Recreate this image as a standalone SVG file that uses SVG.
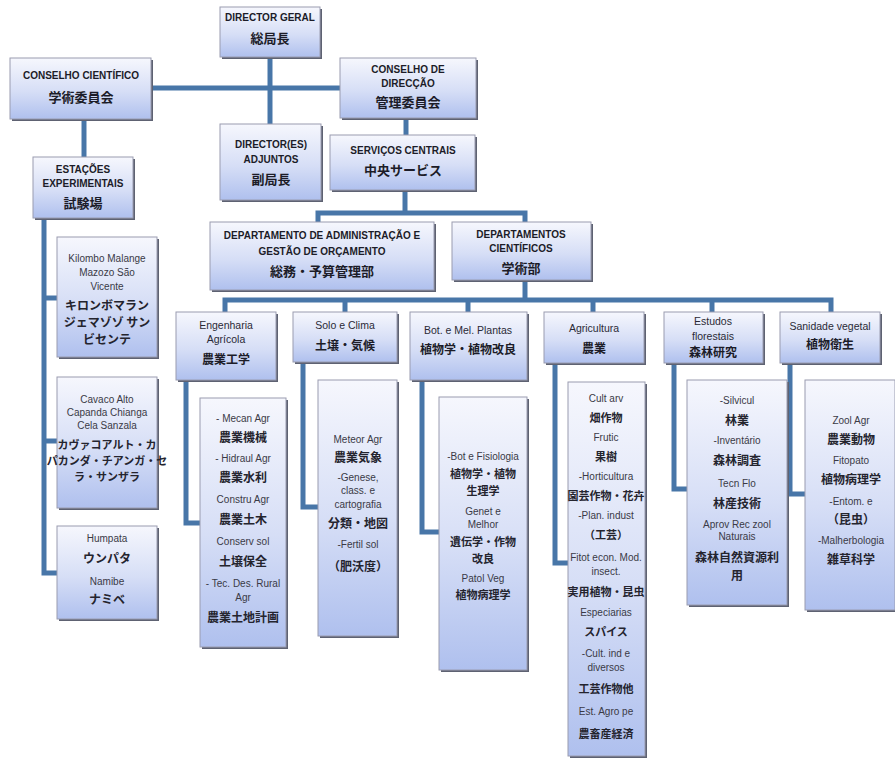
<svg xmlns="http://www.w3.org/2000/svg" width="895" height="760" viewBox="0 0 895 760">
  <defs>
    <linearGradient id="boxFill" x1="0" y1="0" x2="0" y2="1">
      <stop offset="0" stop-color="#f6f7fd"/>
      <stop offset="0.55" stop-color="#d6def6"/>
      <stop offset="1" stop-color="#afc0ee"/>
    </linearGradient>
    <style>
      .shadow { fill: #5e6272; }
      .box { fill: url(#boxFill); stroke: #9a9cb0; stroke-width: 1; }
      .link { fill: none; stroke: #4876a8; stroke-width: 5; stroke-linejoin: miter; }
      text { text-anchor: middle; fill: #1c1c28; }
      .t1 { font-family: "Liberation Sans Narrow", "Liberation Sans", Arial, sans-serif; font-weight: bold; font-size: 10px; }
      .j1 { font-family: "Noto Sans CJK JP", sans-serif; font-weight: bold; font-size: 13px; }
      .t2 { font-family: "Liberation Sans Narrow", "Liberation Sans", Arial, sans-serif; font-size: 10.5px; fill: #2a2a36; }
      .j2 { font-family: "Noto Sans CJK JP", sans-serif; font-weight: bold; font-size: 12px; }
      .t3 { font-family: "Liberation Sans Narrow", "Liberation Sans", Arial, sans-serif; font-size: 10px; fill: #3a3a46; }
      .j3 { font-family: "Noto Sans CJK JP", sans-serif; font-weight: bold; font-size: 12px; fill: #24242e; }
      .j3s { font-size: 11px; }
    </style>
  </defs>

  <rect width="895" height="760" fill="#ffffff"/>

  <!-- connectors -->
  <g id="connectors">
    <path class="link" d="M152 88 H340"/>
    <path class="link" d="M270 58 V124"/>
    <path class="link" d="M406 119 V135"/>
    <path class="link" d="M84 120 V157"/>
    <path class="link" d="M44 218 V573 H57"/>
    <path class="link" d="M44 298 H57"/>
    <path class="link" d="M44 441 H57"/>
    <path class="link" d="M405 190 V213"/>
    <path class="link" d="M318 222 V213 H525 V222"/>
    <path class="link" d="M525 280 V300"/>
    <path class="link" d="M225 312 V300 H831 V312"/>
    <path class="link" d="M345 300 V312"/>
    <path class="link" d="M468 300 V312"/>
    <path class="link" d="M593 300 V312"/>
    <path class="link" d="M712 300 V312"/>
    <path class="link" d="M186 380 V523 H200"/>
    <path class="link" d="M303 362 V507 H318"/>
    <path class="link" d="M422 380 V532 H439"/>
    <path class="link" d="M555 363 V563 H568"/>
    <path class="link" d="M674 363 V489 H687"/>
    <path class="link" d="M790 363 V494 H805"/>
  </g>

  <!-- top level -->
  <g id="director-geral">
    <rect class="shadow" x="222" y="9" width="100" height="50"/>
    <rect class="box" x="220" y="7" width="100" height="50"/>
    <text class="t1" x="270" y="21">DIRECTOR GERAL</text>
    <text class="j1" x="270" y="43">総局長</text>
  </g>

  <g id="conselho-cientifico">
    <rect class="shadow" x="12" y="60" width="141" height="61"/>
    <rect class="box" x="10" y="58" width="141" height="61"/>
    <text class="t1" x="81" y="79">CONSELHO CIENTÍFICO</text>
    <text class="j1" x="81" y="102">学術委員会</text>
  </g>

  <g id="conselho-direccao">
    <rect class="shadow" x="342" y="60" width="136" height="60"/>
    <rect class="box" x="340" y="58" width="136" height="60"/>
    <text class="t1" x="408" y="73">CONSELHO DE</text>
    <text class="t1" x="408" y="87">DIRECÇÃO</text>
    <text class="j1" x="408" y="107">管理委員会</text>
  </g>

  <g id="directores-adjuntos">
    <rect class="shadow" x="222" y="126" width="101" height="76"/>
    <rect class="box" x="220" y="124" width="101" height="76"/>
    <text class="t1" x="271" y="148">DIRECTOR(ES)</text>
    <text class="t1" x="271" y="163">ADJUNTOS</text>
    <text class="j1" x="271" y="184">副局長</text>
  </g>

  <g id="servicos-centrais">
    <rect class="shadow" x="332" y="137" width="145" height="55"/>
    <rect class="box" x="330" y="135" width="145" height="55"/>
    <text class="t1" x="403" y="154">SERVIÇOS CENTRAIS</text>
    <text class="j1" x="403" y="175">中央サービス</text>
  </g>

  <g id="estacoes-experimentais">
    <rect class="shadow" x="35" y="159" width="100" height="61"/>
    <rect class="box" x="33" y="157" width="100" height="61"/>
    <text class="t1" x="83" y="173">ESTAÇÕES</text>
    <text class="t1" x="83" y="187">EXPERIMENTAIS</text>
    <text class="j1" x="83" y="208">試験場</text>
  </g>

  <!-- experimental stations -->
  <g id="estacao-kilombo">
    <rect class="shadow" x="59" y="239" width="100" height="120"/>
    <rect class="box" x="57" y="237" width="100" height="120"/>
    <text class="t3" x="107" y="262">Kilombo Malange</text>
    <text class="t3" x="107" y="276">Mazozo São</text>
    <text class="t3" x="107" y="290">Vicente</text>
    <text class="j3" x="107" y="310">キロンボマラン</text>
    <text class="j3" x="107" y="327">ジェマゾゾ サン</text>
    <text class="j3" x="107" y="344">ビセンテ</text>
  </g>

  <g id="estacao-cavaco">
    <rect class="shadow" x="59" y="379" width="100" height="131"/>
    <rect class="box" x="57" y="377" width="100" height="131"/>
    <text class="t3" x="107" y="403">Cavaco Alto</text>
    <text class="t3" x="107" y="416">Capanda Chianga</text>
    <text class="t3" x="107" y="429">Cela Sanzala</text>
    <text class="j3 j3s" x="107" y="449">カヴァコアルト・カ</text>
    <text class="j3 j3s" x="107" y="465">パカンダ・チアンガ・セ</text>
    <text class="j3 j3s" x="107" y="481">ラ・サンザラ</text>
  </g>

  <g id="estacao-humpata">
    <rect class="shadow" x="59" y="528" width="100" height="93"/>
    <rect class="box" x="57" y="526" width="100" height="93"/>
    <text class="t3" x="107" y="542">Humpata</text>
    <text class="j3" x="107" y="563">ウンパタ</text>
    <text class="t3" x="107" y="585">Namibe</text>
    <text class="j3" x="107" y="604">ナミベ</text>
  </g>

  <!-- departments -->
  <g id="dep-administracao">
    <rect class="shadow" x="212" y="224" width="224" height="68"/>
    <rect class="box" x="210" y="222" width="224" height="68"/>
    <text class="t1" x="322" y="239">DEPARTAMENTO DE ADMINISTRAÇÃO E</text>
    <text class="t1" x="322" y="255">GESTÃO DE ORÇAMENTO</text>
    <text class="j1" x="322" y="276">総務・予算管理部</text>
  </g>

  <g id="dep-cientificos">
    <rect class="shadow" x="454" y="224" width="139" height="58"/>
    <rect class="box" x="452" y="222" width="139" height="58"/>
    <text class="t1" x="521" y="238">DEPARTAMENTOS</text>
    <text class="t1" x="521" y="252">CIENTÍFICOS</text>
    <text class="j1" x="521" y="273">学術部</text>
  </g>

  <!-- scientific departments -->
  <g id="eng-agricola">
    <rect class="shadow" x="178" y="314" width="100" height="68"/>
    <rect class="box" x="176" y="312" width="100" height="68"/>
    <text class="t2" x="226" y="329">Engenharia</text>
    <text class="t2" x="226" y="343">Agrícola</text>
    <text class="j2" x="226" y="364">農業工学</text>
  </g>

  <g id="solo-clima">
    <rect class="shadow" x="295" y="314" width="104" height="50"/>
    <rect class="box" x="293" y="312" width="104" height="50"/>
    <text class="t2" x="345" y="329">Solo e Clima</text>
    <text class="j2" x="345" y="350">土壌・気候</text>
  </g>

  <g id="botanica">
    <rect class="shadow" x="412" y="314" width="117" height="68"/>
    <rect class="box" x="410" y="312" width="117" height="68"/>
    <text class="t2" x="468" y="334">Bot. e Mel. Plantas</text>
    <text class="j2" x="468" y="354">植物学・植物改良</text>
  </g>

  <g id="agricultura">
    <rect class="shadow" x="546" y="314" width="100" height="51"/>
    <rect class="box" x="544" y="312" width="100" height="51"/>
    <text class="t2" x="594" y="332">Agricultura</text>
    <text class="j2" x="594" y="353">農業</text>
  </g>

  <g id="estudos-florestais">
    <rect class="shadow" x="666" y="314" width="99" height="51"/>
    <rect class="box" x="664" y="312" width="99" height="51"/>
    <text class="t2" x="713" y="325">Estudos</text>
    <text class="t2" x="713" y="340">florestais</text>
    <text class="j2" x="713" y="357">森林研究</text>
  </g>

  <g id="sanidade-vegetal">
    <rect class="shadow" x="782" y="314" width="100" height="51"/>
    <rect class="box" x="780" y="312" width="100" height="51"/>
    <text class="t2" x="830" y="330">Sanidade vegetal</text>
    <text class="j2" x="830" y="349">植物衛生</text>
  </g>

  <!-- sections -->
  <g id="sec-eng-agricola">
    <rect class="shadow" x="202" y="400" width="86" height="249"/>
    <rect class="box" x="200" y="398" width="86" height="249"/>
    <text class="t3" x="243" y="422">- Mecan Agr</text>
    <text class="j3" x="243" y="442">農業機械</text>
    <text class="t3" x="243" y="462">- Hidraul Agr</text>
    <text class="j3" x="243" y="482">農業水利</text>
    <text class="t3" x="243" y="503">Constru Agr</text>
    <text class="j3" x="243" y="524">農業土木</text>
    <text class="t3" x="243" y="545">Conserv sol</text>
    <text class="j3" x="243" y="566">土壌保全</text>
    <text class="t3" x="243" y="587">- Tec. Des. Rural</text>
    <text class="t3" x="243" y="601">Agr</text>
    <text class="j3" x="243" y="622">農業土地計画</text>
  </g>

  <g id="sec-solo-clima">
    <rect class="shadow" x="320" y="382" width="79" height="256"/>
    <rect class="box" x="318" y="380" width="79" height="256"/>
    <text class="t3" x="358" y="443">Meteor Agr</text>
    <text class="j3" x="358" y="462">農業気象</text>
    <text class="t3" x="358" y="481">-Genese,</text>
    <text class="t3" x="358" y="494">class. e</text>
    <text class="t3" x="358" y="508">cartografia</text>
    <text class="j3" x="358" y="528">分類・地図</text>
    <text class="t3" x="358" y="548">-Fertil sol</text>
    <text class="j3" x="358" y="571">（肥沃度）</text>
  </g>

  <g id="sec-botanica">
    <rect class="shadow" x="441" y="399" width="88" height="273"/>
    <rect class="box" x="439" y="397" width="88" height="273"/>
    <text class="t3" x="483" y="460">-Bot e Fisiologia</text>
    <text class="j3 j3s" x="483" y="478">植物学・植物</text>
    <text class="j3 j3s" x="483" y="495">生理学</text>
    <text class="t3" x="483" y="515">Genet e</text>
    <text class="t3" x="483" y="528">Melhor</text>
    <text class="j3 j3s" x="483" y="546">遺伝学・作物</text>
    <text class="j3 j3s" x="483" y="563">改良</text>
    <text class="t3" x="483" y="582">Patol Veg</text>
    <text class="j3 j3s" x="483" y="599">植物病理学</text>
  </g>

  <g id="sec-agricultura">
    <rect class="shadow" x="570" y="384" width="77" height="374"/>
    <rect class="box" x="568" y="382" width="77" height="374"/>
    <text class="t3" x="606" y="402">Cult arv</text>
    <text class="j3 j3s" x="606" y="422">畑作物</text>
    <text class="t3" x="606" y="441">Frutic</text>
    <text class="j3 j3s" x="606" y="461">果樹</text>
    <text class="t3" x="606" y="480">-Horticultura</text>
    <text class="j3 j3s" x="606" y="500">園芸作物・花卉</text>
    <text class="t3" x="606" y="519">-Plan. indust</text>
    <text class="j3 j3s" x="606" y="539">（工芸）</text>
    <text class="t3" x="606" y="561">Fitot econ. Mod.</text>
    <text class="t3" x="606" y="575">insect.</text>
    <text class="j3 j3s" x="606" y="596">実用植物・昆虫</text>
    <text class="t3" x="606" y="616">Especiarias</text>
    <text class="j3 j3s" x="606" y="636">スパイス</text>
    <text class="t3" x="606" y="657">-Cult. ind e</text>
    <text class="t3" x="606" y="671">diversos</text>
    <text class="j3 j3s" x="606" y="693">工芸作物他</text>
    <text class="t3" x="606" y="715">Est. Agro pe</text>
    <text class="j3 j3s" x="606" y="738">農畜産経済</text>
  </g>

  <g id="sec-florestais">
    <rect class="shadow" x="689" y="382" width="100" height="225"/>
    <rect class="box" x="687" y="380" width="100" height="225"/>
    <text class="t3" x="737" y="404">-Silvicul</text>
    <text class="j3" x="737" y="425">林業</text>
    <text class="t3" x="737" y="444">-Inventário</text>
    <text class="j3" x="737" y="465">森林調査</text>
    <text class="t3" x="737" y="487">Tecn Flo</text>
    <text class="j3" x="737" y="508">林産技術</text>
    <text class="t3" x="737" y="528">Aprov Rec zool</text>
    <text class="t3" x="737" y="540">Naturais</text>
    <text class="j3" x="737" y="562">森林自然資源利</text>
    <text class="j3" x="737" y="580">用</text>
  </g>

  <g id="sec-sanidade">
    <rect class="shadow" x="807" y="382" width="90" height="230"/>
    <rect class="box" x="805" y="380" width="90" height="230"/>
    <text class="t3" x="851" y="424">Zool Agr</text>
    <text class="j3" x="851" y="444">農業動物</text>
    <text class="t3" x="851" y="464">Fitopato</text>
    <text class="j3" x="851" y="484">植物病理学</text>
    <text class="t3" x="851" y="505">-Entom. e</text>
    <text class="j3" x="851" y="524">（昆虫）</text>
    <text class="t3" x="851" y="544">-Malherbologia</text>
    <text class="j3" x="851" y="564">雑草科学</text>
  </g>
</svg>
